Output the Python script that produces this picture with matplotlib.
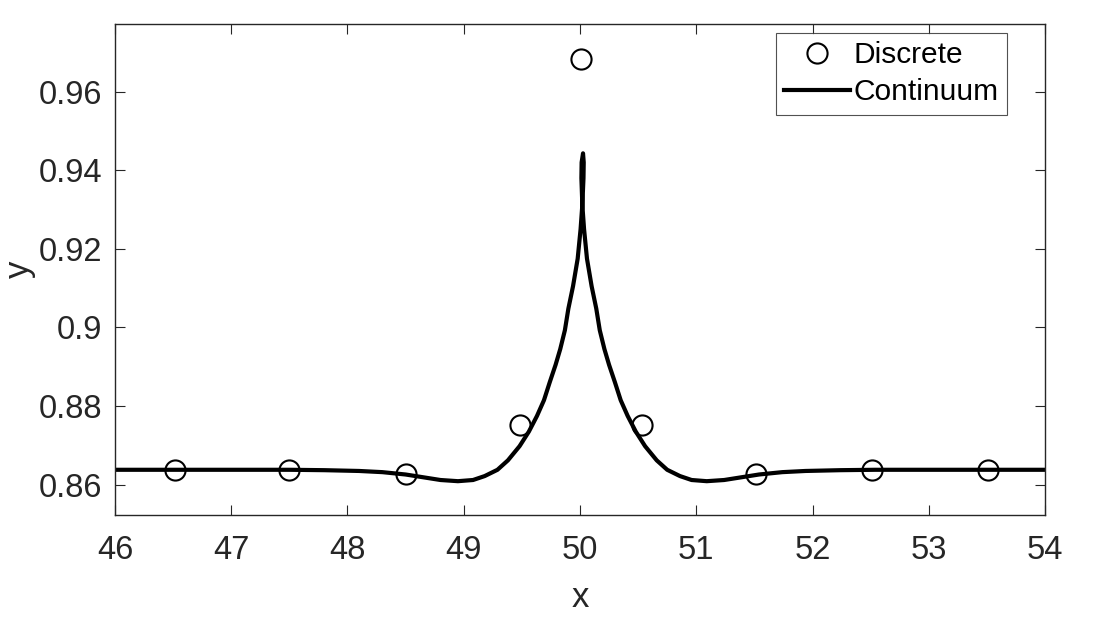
import matplotlib
matplotlib.use("Agg")
import matplotlib.pyplot as plt

plt.rcParams['font.family'] = ['Liberation Sans', 'DejaVu Sans']

# discrete points
disc_x = [46.52, 47.5, 48.5, 49.48, 50.01, 50.53, 51.51, 52.51, 53.51]
disc_y = [0.8638, 0.8638, 0.8628, 0.8753, 0.9682, 0.8753, 0.8628, 0.8638, 0.8638]

# continuum curve, left flank up to the peak
left_x = [46.0, 47.0, 47.5, 47.8, 48.1, 48.3, 48.5, 48.65, 48.8, 48.95, 49.08,
          49.18, 49.29, 49.38, 49.48, 49.56, 49.63, 49.69, 49.74, 49.79, 49.83,
          49.87, 49.90, 49.94, 49.98, 50.005, 50.02, 50.03, 50.032]
left_y = [0.8638, 0.8638, 0.8638, 0.8637, 0.8635, 0.8632, 0.8626, 0.8619, 0.8612,
          0.8609, 0.8612, 0.8622, 0.8638, 0.8662, 0.8698, 0.8735, 0.8775, 0.8815,
          0.8861, 0.8905, 0.8945, 0.8993, 0.9048, 0.9105, 0.9175, 0.9250, 0.9312,
          0.9380, 0.9420]

# tip and right flank back down
right_x = [50.026, 50.014, 50.012, 50.02, 50.035, 50.06, 50.10, 50.14, 50.17,
           50.21, 50.25, 50.30, 50.35, 50.41, 50.48, 50.56, 50.66, 50.75, 50.86,
           50.96, 51.09, 51.24, 51.39, 51.54, 51.74, 51.94, 52.24, 52.54, 53.0, 54.0]
right_y = [0.9443, 0.9420, 0.9380, 0.9312, 0.9250, 0.9175, 0.9105, 0.9048, 0.8993,
           0.8945, 0.8905, 0.8861, 0.8815, 0.8775, 0.8735, 0.8698, 0.8662, 0.8638,
           0.8622, 0.8612, 0.8609, 0.8612, 0.8619, 0.8626, 0.8632, 0.8635, 0.8637,
           0.8638, 0.8638, 0.8638]

x_ticks = [46, 47, 48, 49, 50, 51, 52, 53, 54]
y_ticks = [0.86, 0.88, 0.90, 0.92, 0.94, 0.96]
y_tick_labels = ["0.86", "0.88", "0.9", "0.92", "0.94", "0.96"]

ink = (0.15, 0.15, 0.15)

fig = plt.figure(figsize=(10.93, 6.38), dpi=100)
ax = fig.add_axes([0.1052, 0.1928, 0.8509, 0.7696])

ax.plot(disc_x, disc_y, linestyle='none', marker='o', markersize=14.5,
        markerfacecolor='none', markeredgecolor='black', markeredgewidth=1.5,
        label='Discrete', zorder=3)
ax.plot(left_x + right_x, left_y + right_y, color='black', linewidth=3.0,
        solid_joinstyle='round', label='Continuum', zorder=2)

ax.set_xlim(46, 54)
ax.set_ylim(0.8523, 0.9772)
ax.set_xticks(x_ticks)
ax.set_yticks(y_ticks)
ax.set_yticklabels(y_tick_labels)

for s in ax.spines.values():
    s.set_color(ink)
    s.set_linewidth(1.0)
ax.tick_params(direction='in', length=7, width=0.8, colors=ink,
               labelsize=23.5, top=True, right=True)
ax.tick_params(axis='x', pad=14.5)
ax.tick_params(axis='y', pad=9)

ax.set_xlabel('x', fontsize=25, color=ink, labelpad=11)
ax.set_ylabel('y', fontsize=25, color=ink, labelpad=2)

leg = ax.legend(loc='upper right', bbox_to_anchor=(0.959, 0.982), fontsize=21.5,
                frameon=True, fancybox=False, edgecolor=ink, handlelength=2.2,
                handletextpad=0.12, borderpad=0.28, labelspacing=0.3,
                borderaxespad=0)
leg.get_frame().set_linewidth(0.8)

fig.savefig('out.png', dpi=100, facecolor='white')
